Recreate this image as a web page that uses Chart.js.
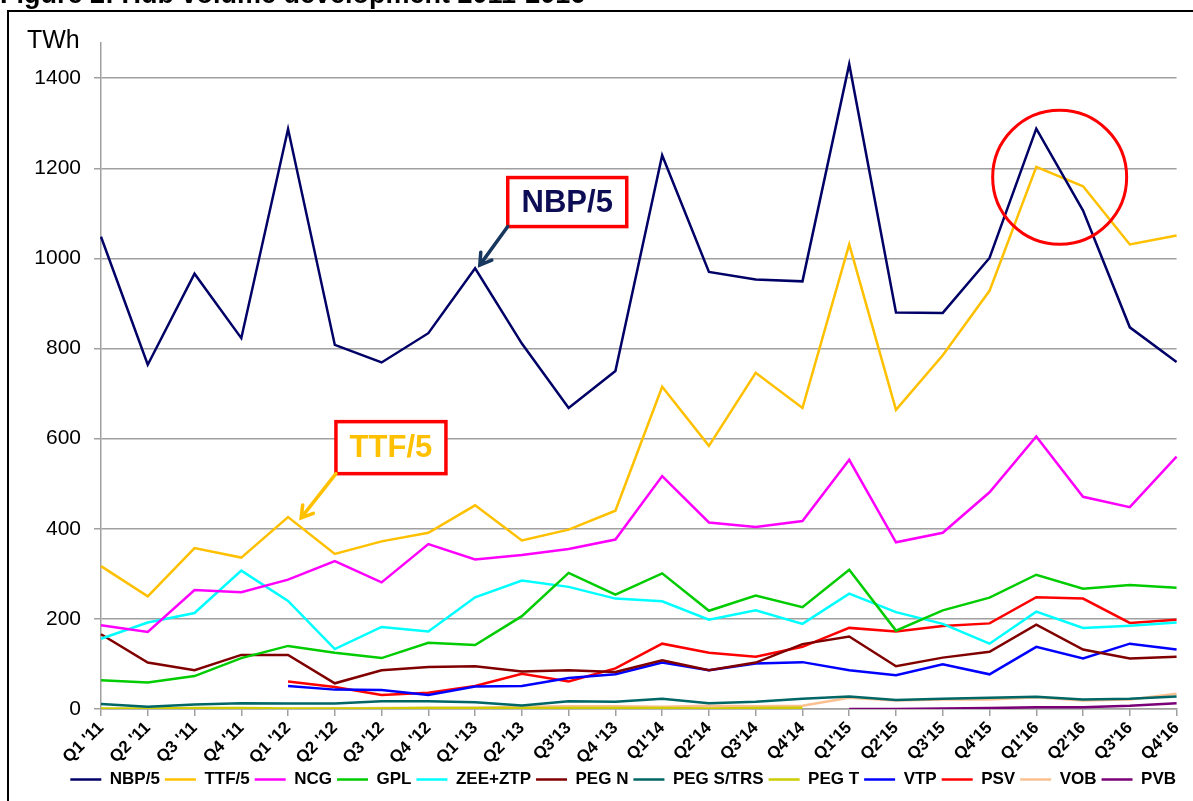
<!DOCTYPE html>
<html>
<head>
<meta charset="utf-8">
<script src="https://cdn.jsdelivr.net/npm/chart.js@4.4.1/dist/chart.umd.min.js"></script>
<style>
  html, body { margin: 0; padding: 0; background: #fff; }
  #wrap { width: 1193px; height: 801px; }
</style>
</head>
<body>
<div id="wrap"><canvas id="hubs"></canvas></div>
<script>
const quarters = ["Q1 '11", "Q2 '11", "Q3 '11", "Q4 '11", "Q1 '12", "Q2 '12", "Q3 '12", "Q4 '12",
  "Q1 '13", "Q2 '13", "Q3'13", "Q4 '13", "Q1'14", "Q2'14", "Q3'14", "Q4'14",
  "Q1'15", "Q2'15", "Q3'15", "Q4'15", "Q1'16", "Q2'16", "Q3'16", "Q4'16"];

const nbp  = [1048, 764, 966, 823, 1287, 808, 769, 834, 978, 811, 668, 750, 1229, 970, 953, 949, 1431, 880, 879, 1001, 1288, 1106, 847, 770];
const ttf  = [317, 250, 357, 336, 426, 344, 372, 391, 452, 374, 398, 440, 715, 584, 746, 668, 1031, 664, 785, 928, 1203, 1160, 1031, 1051];
const ncg  = [186, 171, 264, 259, 287, 328, 281, 366, 332, 342, 355, 376, 517, 414, 404, 417, 553, 370, 391, 481, 605, 471, 448, 560];
const gpl  = [64, 59, 73, 113, 140, 125, 113, 147, 142, 206, 302, 254, 301, 218, 252, 226, 309, 174, 219, 247, 298, 267, 275, 269];
const zee  = [156, 192, 213, 307, 240, 133, 182, 172, 248, 285, 271, 245, 239, 198, 219, 189, 256, 215, 189, 145, 216, 180, 185, 192];
const pegN = [166, 103, 86, 120, 120, 57, 86, 93, 95, 83, 86, 82, 108, 86, 103, 144, 161, 95, 114, 127, 187, 132, 112, 116];
const pegS = [11, 5, 10, 13, 12, 12, 17, 17, 15, 8, 17, 16, 23, 13, 16, 23, 28, 20, 23, 25, 27, 21, 23, 28];
const pegT = [1, 1, 2, 2, 1, 1, 1, 2, 2, 2, 2, 2, 2, 1, 2, 3, null, null, null, null, null, null, null, null];
const vtp  = [null, null, null, null, 51, 43, 42, 31, 50, 51, 69, 77, 103, 86, 101, 104, 86, 75, 99, 77, 138, 112, 145, 132];
const psv  = [null, null, null, null, 61, 49, 31, 36, 51, 78, 61, 90, 145, 125, 116, 138, 180, 172, 184, 190, 248, 245, 191, 198];
const vob  = [null, null, null, null, 0, 1, 2, 3, 3, 5, 6, 6, 5, 7, 6, 7, 25, 19, 21, 21, 26, 19, 21, 34];
const pvb  = [null, null, null, null, null, null, null, null, null, null, null, null, null, null, null, null, 0, 0, 1, 2, 4, 4, 7, 13];

const yTicks = [0, 200, 400, 600, 800, 1000, 1200, 1400];

function series(label, data, color) {
  return {
    label: label,
    data: data,
    borderColor: color,
    backgroundColor: color,
    borderWidth: 2.5,
    pointRadius: 0,
    tension: 0,
    fill: false
  };
}

// title (cut off at the top), frame, TWh unit, callouts and circle
const extras = {
  id: 'extras',
  beforeDraw(chart) {
    const ctx = chart.ctx;
    ctx.save();
    ctx.fillStyle = '#fff';
    ctx.fillRect(0, 0, chart.width, chart.height);
    ctx.fillStyle = '#000';
    ctx.font = 'bold 27px Arial, "Liberation Sans"';
    ctx.textBaseline = 'alphabetic';
    ctx.fillText('Figure 2: Hub volume development 2011-2016', 0, 3);
    ctx.strokeStyle = '#000';
    ctx.lineWidth = 2;
    ctx.strokeRect(8, 11, chart.width + 20, chart.height + 20);
    ctx.font = '25px Arial, "Liberation Sans"';
    ctx.fillText('TWh', 27, 48);
    ctx.restore();
  },
  afterDatasetsDraw(chart) {
    const ctx = chart.ctx;
    const xs = chart.scales.x, ys = chart.scales.y;
    const px = v => xs.getPixelForValue(v);
    const py = v => ys.getPixelForValue(v);

    // circle around the 2016 crossing
    ctx.save();
    ctx.strokeStyle = '#ff0000';
    ctx.lineWidth = 3;
    ctx.beginPath();
    ctx.arc(px(20.5), py(1180), 67, 0, Math.PI * 2);
    ctx.stroke();

    function callout(text, cx, cy, w, h, textColor, arrowColor, tipX, tipY) {
      const bx = px(cx) - w / 2, by = py(cy) - h / 2;
      ctx.fillStyle = '#fff';
      ctx.fillRect(bx, by, w, h);
      ctx.strokeStyle = '#ff0000';
      ctx.lineWidth = 3.5;
      ctx.strokeRect(bx, by, w, h);
      ctx.fillStyle = textColor;
      ctx.font = 'bold 31px Arial, "Liberation Sans"';
      ctx.textAlign = 'center';
      ctx.textBaseline = 'middle';
      ctx.fillText(text, bx + w / 2, by + h / 2 + 1);
      const sx = bx, sy = by + h;
      const tx = px(tipX), ty = py(tipY);
      ctx.strokeStyle = arrowColor;
      ctx.lineWidth = 3.5;
      ctx.lineCap = 'round';
      ctx.beginPath();
      ctx.moveTo(sx, sy);
      ctx.lineTo(tx, ty);
      const a = Math.atan2(ty - sy, tx - sx);
      const hl = 13;
      ctx.moveTo(tx - hl * Math.cos(a - 0.55), ty - hl * Math.sin(a - 0.55));
      ctx.lineTo(tx, ty);
      ctx.lineTo(tx - hl * Math.cos(a + 0.55), ty - hl * Math.sin(a + 0.55));
      ctx.stroke();
    }
    callout('NBP/5', 9.97, 1125, 119, 49, '#0d0d55', '#17375e', 8.1, 985);
    callout('TTF/5', 6.2, 580, 110, 52, '#ffc000', '#ffc000', 4.28, 424);
    ctx.restore();
  }
};

new Chart(document.getElementById('hubs'), {
  type: 'line',
  data: {
    labels: quarters,
    datasets: [
      series('NBP/5', nbp, '#000066'),
      series('TTF/5', ttf, '#ffc000'),
      series('NCG', ncg, '#ff00ff'),
      series('GPL', gpl, '#00cc00'),
      series('ZEE+ZTP', zee, '#00ffff'),
      series('PEG N', pegN, '#800000'),
      series('PEG S/TRS', pegS, '#006666'),
      series('PEG T', pegT, '#cccc00'),
      series('VTP', vtp, '#0000ff'),
      series('PSV', psv, '#ff0000'),
      series('VOB', vob, '#fac090'),
      series('PVB', pvb, '#7a0077')
    ]
  },
  options: {
    responsive: true,
    maintainAspectRatio: false,
    animation: false,
    layout: { padding: { top: 43, right: 12, bottom: 3, left: 0 } },
    plugins: {
      title: { display: false },
      tooltip: { enabled: false },
      legend: {
        position: 'bottom',
        align: 'end',
        labels: {
          usePointStyle: true,
          pointStyle: 'line',
          pointStyleWidth: 31,
          padding: 5,
          color: '#000',
          font: { family: 'Arial, "Liberation Sans"', size: 17, weight: 'bold' }
        }
      }
    },
    scales: {
      x: {
        offset: false,
        grid: { display: true, drawOnChartArea: false, drawTicks: true, tickLength: 7, color: '#a0a0a0', lineWidth: 1.5 },
        border: { color: '#a0a0a0', width: 1.5 },
        afterFit(scale) { scale.height = 57; },
        ticks: {
          autoSkip: false,
          minRotation: 45,
          maxRotation: 45,
          padding: 2,
          color: '#000',
          font: { family: 'Arial, "Liberation Sans"', size: 17, weight: 'bold' }
        }
      },
      y: {
        min: 0,
        max: 1478,
        afterFit(scale) { scale.width = 101; },
        afterBuildTicks(scale) { scale.ticks = yTicks.map(v => ({ value: v })); },
        grid: { color: '#a0a0a0', lineWidth: 1.5, tickLength: 7 },
        border: { color: '#a0a0a0', width: 1.5 },
        ticks: {
          padding: 13,
          color: '#000',
          font: { family: 'Arial, "Liberation Sans"', size: 21 },
          callback: v => String(v)
        }
      }
    }
  },
  plugins: [extras]
});
</script>
</body>
</html>
